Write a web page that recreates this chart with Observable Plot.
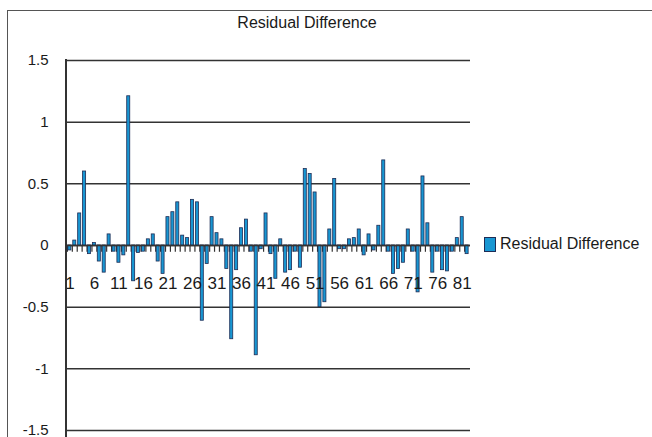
<!DOCTYPE html>
<html>
<head>
<meta charset="utf-8">
<script src="https://cdn.jsdelivr.net/npm/d3@7"></script>
<script src="https://cdn.jsdelivr.net/npm/@observablehq/plot@0.6"></script>
<style>
  html, body { margin: 0; padding: 0; background: #fff; }
  #wrap { position: relative; width: 652px; height: 437px; overflow: hidden; font-family: "Liberation Sans", Arial, sans-serif; color: #1a1a1a; }
  #wrap svg { position: absolute; left: 0; top: 0; }
  .frame { position: absolute; left: 7px; top: 10px; width: 660px; height: 440px; border-top: 1px solid #555; border-left: 1px solid #555; }
  .title { position: absolute; left: 307px; top: 14px; transform: translateX(-50%); font-size: 16px; white-space: nowrap; }
  .yline { position: absolute; left: 65px; top: 59px; width: 1.5px; height: 380px; background: #333; }
  .legend { position: absolute; left: 484px; top: 235px; display: flex; align-items: center; font-size: 16px; white-space: nowrap; }
  .legend .sw { width: 10px; height: 13px; background: #1896d2; border: 1px solid #1e2c55; margin-right: 4px; }
</style>
</head>
<body>
<div id="wrap">
  <div class="frame"></div>
  <div class="title">Residual Difference</div>
  <div id="chart"></div>
  <div class="yline"></div>
  <div class="legend"><div class="sw"></div><span>Residual Difference</span></div>
</div>
<script>
const seriesName = "Residual Difference";
const categories = d3.range(1, 83);
const values = [
  -0.04, 0.04, 0.26, 0.60, -0.07, 0.02, -0.13, -0.22, 0.09, -0.05,
  -0.14, -0.08, 1.21, -0.29, -0.06, -0.05, 0.05, 0.09, -0.13, -0.23,
  0.23, 0.27, 0.35, 0.08, 0.06, 0.37, 0.35, -0.61, -0.15, 0.23,
  0.10, 0.05, -0.19, -0.76, -0.20, 0.14, 0.21, -0.05, -0.89, -0.03,
  0.26, -0.07, -0.27, 0.05, -0.22, -0.20, -0.05, -0.18, 0.62, 0.58,
  0.43, -0.50, -0.46, 0.13, 0.54, -0.03, -0.03, 0.05, 0.06, 0.13,
  -0.08, 0.09, -0.04, 0.16, 0.69, -0.05, -0.23, -0.19, -0.14, 0.13,
  -0.05, -0.38, 0.56, 0.18, -0.22, -0.05, -0.20, -0.21, -0.05, 0.06,
  0.23, -0.07
];
const xTickLabels = [1, 6, 11, 16, 21, 26, 31, 36, 41, 46, 51, 56, 61, 66, 71, 76, 81];
const yTicks = [-1.5, -1, -0.5, 0, 0.5, 1, 1.5];

const data = categories.map((c, i) => ({cat: c, value: values[i]}));

const chart = Plot.plot({
  width: 652,
  height: 437,
  marginTop: 60,
  marginBottom: 7,
  marginLeft: 66,
  marginRight: 182,
  style: {fontFamily: "'Liberation Sans', Arial, sans-serif", color: "#1a1a1a", background: "transparent"},
  x: {type: "band", domain: categories, padding: 0.38, axis: null},
  y: {domain: [-1.5, 1.5], ticks: yTicks, tickFormat: d => String(d), tickSize: 0, tickPadding: 18, label: null},
  marks: [
    Plot.ruleY(yTicks, {stroke: "#333", strokeWidth: 1.5}),
    Plot.ruleX(categories, {x: d => d, y1: 0, y2: -0.055, dx: -2.46, stroke: "#333", strokeWidth: 1.2}),
    Plot.barY(data, {x: "cat", y: "value", fill: "#1896d2", stroke: "#1e2c55", strokeWidth: 0.8}),
    Plot.ruleY([0], {stroke: "#333", strokeWidth: 1.5}),
    Plot.text(xTickLabels, {x: d => d, y: 0, dy: 38, text: d => String(d), fontSize: 17, fill: "#1a1a1a"})
  ]
});
chart.querySelectorAll("g[aria-label='y-axis tick label'] text, g[aria-label='y-axis'] text").forEach(t => t.setAttribute("font-size", "15"));
document.getElementById("chart").appendChild(chart);
</script>
</body>
</html>
